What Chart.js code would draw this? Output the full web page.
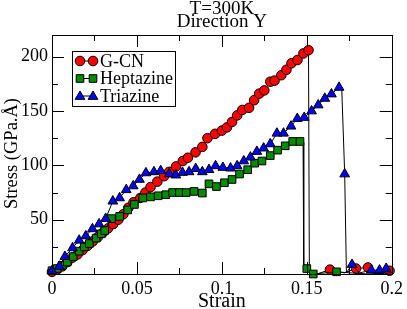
<!DOCTYPE html>
<html>
<head>
<meta charset="utf-8">
<script src="https://cdn.jsdelivr.net/npm/chart.js@4.4.0/dist/chart.umd.min.js"></script>
<style>
html,body{margin:0;padding:0;background:#fff;}
#wrap{width:407px;height:309px;position:relative;}
</style>
</head>
<body>
<div id="wrap"><canvas id="c" width="407" height="309"></canvas></div>
<script>
// ---- Data ----
const titleLines = ['T=300K', 'Direction Y'];
const xTitle = 'Strain';
const yTitle = 'Stress (GPa.Å)';
const seriesNames = ['G-CN', 'Heptazine', 'Triazine'];

const xMajorTicks = [0, 0.05, 0.1, 0.15, 0.2];
const xTickLabels = ['0', '0.05', '0.1', '0.15', '0.2'];
const xMinorTicks = [0.025, 0.075, 0.125, 0.175];
const yMajorTicks = [50, 100, 150, 200];
const yTickLabels = ['50', '100', '150', '200'];
const yMinorTicks = [25, 75, 125, 175];

// symbols: [strain, stress]
const gcnSymbols = [[0,2],[0.003,4],[0.006,7],[0.009,11],[0.012,15],[0.015,18],[0.018,22],[0.021,26],[0.024,30],[0.027,34],[0.030,38],[0.033,42],[0.036,46],[0.039,50],[0.042,55],[0.045,61],[0.048,66],[0.052,70],[0.055,75],[0.058,80],[0.062,85],[0.066,90],[0.069,94],[0.073,99],[0.077,104],[0.080,107],[0.0845,112],[0.0885,117],[0.0915,125],[0.096,129],[0.100,132],[0.103,135],[0.106,140],[0.109,146],[0.112,151],[0.116,153],[0.119,160],[0.122,166],[0.125,169],[0.1285,177],[0.131,178],[0.135,183],[0.138,188],[0.141,194],[0.1445,197],[0.148,203],[0.151,206],[0.1636,4],[0.179,5],[0.186,6],[0.1987,3]];
const gcnTrace = [[0.1515,1],[0.156,0],[0.172,1],[0.193,0],[0.2,1]];

const heptSymbols = [[0,3],[0.003,5],[0.006,8],[0.009,11],[0.0125,16],[0.016,21],[0.019,25],[0.022,28],[0.026,33],[0.029,37],[0.031,40],[0.035,51],[0.0398,53],[0.0446,59],[0.0485,64],[0.0534,70],[0.058,71],[0.0625,72],[0.067,73],[0.071,75],[0.075,75],[0.079,75],[0.0836,76],[0.0885,74.5],[0.0924,83],[0.0968,80.5],[0.1015,84],[0.106,87],[0.1104,92],[0.1152,96],[0.1193,102],[0.1236,104],[0.1285,109],[0.1328,114],[0.1373,118],[0.1417,122],[0.146,122],[0.150,5],[0.1538,0],[0.1675,2]];
const heptTrace = [[0.1478,121],[0.1482,2],[0.176,1],[0.186,0],[0.2,1]];

const triSymbols = [[0,3],[0.0043,7],[0.0076,16],[0.0121,24],[0.016,31],[0.0199,35],[0.0238,41.5],[0.0277,46],[0.0316,51],[0.0358,67],[0.0398,70],[0.0437,77.5],[0.0478,81],[0.0515,87],[0.0553,93],[0.060,94],[0.064,95],[0.069,92],[0.0729,91],[0.0768,93.4],[0.0807,94],[0.0846,97],[0.0885,94],[0.0924,96],[0.0963,99.5],[0.1006,98],[0.1051,97.4],[0.109,99.5],[0.1129,104],[0.1168,107.5],[0.1206,112.7],[0.1246,115.8],[0.1285,119.7],[0.1324,129.5],[0.1363,129.5],[0.1407,136],[0.1444,143],[0.1485,144],[0.1528,150],[0.1567,155.5],[0.1606,161.6],[0.1645,165.6],[0.169,171.7],[0.1723,92],[0.1766,8.7],[0.188,3.5],[0.1928,3.5],[0.1967,5]];
const triTrace = [[0.1706,169],[0.1733,1],[0.181,1],[0.2,1]];

// ---- Styling ----
const FONT = '"Liberation Serif", "Times New Roman", Times, serif';
const colors = ['#ff0000', '#008b00', '#0000ff'];
const styles = ['circle', 'rect', 'triangle'];
const radii = [4.8, 5.4, 5.6];

function toPts(a){ return a.map(p => ({x:p[0], y:p[1]})); }
function merged(sym, tr){ return sym.concat(tr).slice().sort((a,b)=>a[0]-b[0]); }

const allSym = [gcnSymbols, heptSymbols, triSymbols];
const allTrace = [gcnTrace, heptTrace, triTrace];

const datasets = [];
for (let i = 0; i < 3; i++) {
  datasets.push({
    label: seriesNames[i] + ' line',
    data: toPts(merged(allSym[i], allTrace[i])),
    showLine: true, borderColor: '#000', borderWidth: 1, pointRadius: 0,
    pointHoverRadius: 0, fill: false, tension: 0, clip: false,
    order: 10 - 2*i
  });
  datasets.push({
    label: seriesNames[i],
    data: toPts(allSym[i]),
    showLine: false, pointStyle: styles[i], pointRadius: radii[i],
    pointBackgroundColor: colors[i], pointBorderColor: '#000', pointBorderWidth: 1,
    clip: false, order: 9 - 2*i
  });
}

function drawMarker(ctx, style, x, y, r, fill){
  ctx.save();
  ctx.fillStyle = fill; ctx.strokeStyle = '#000'; ctx.lineWidth = 1;
  ctx.beginPath();
  if (style === 'circle') { ctx.arc(x, y, r, 0, Math.PI*2); }
  else if (style === 'rect') { const s = r*Math.SQRT1_2; ctx.rect(x-s, y-s, 2*s, 2*s); }
  else {
    const a = -Math.PI/2;
    for (let k = 0; k < 3; k++) {
      const ang = a + k*2*Math.PI/3;
      const px = x + Math.cos(ang)*r, py = y + Math.sin(ang)*r + r*0.1;
      if (k===0) ctx.moveTo(px, py); else ctx.lineTo(px, py);
    }
    ctx.closePath();
  }
  ctx.fill(); ctx.stroke();
  ctx.restore();
}

const decor = {
  id: 'decor',
  afterDraw(chart){
    const ctx = chart.ctx, ca = chart.chartArea;
    const xs = chart.scales.x, ys = chart.scales.y;
    ctx.save();
    ctx.strokeStyle = '#000'; ctx.lineWidth = 1;
    ctx.strokeRect(Math.round(ca.left)+0.5, Math.round(ca.top)+0.5, Math.round(ca.right-ca.left), Math.round(ca.bottom-ca.top));
    ctx.beginPath();
    const tick = (vals, len) => {
      vals.forEach(v => {
        const px = Math.round(xs.getPixelForValue(v))+0.5;
        ctx.moveTo(px, ca.bottom); ctx.lineTo(px, ca.bottom - len);
        ctx.moveTo(px, ca.top); ctx.lineTo(px, ca.top + len);
      });
    };
    const ytick = (vals, len) => {
      vals.forEach(v => {
        const py = Math.round(ys.getPixelForValue(v))+0.5;
        ctx.moveTo(ca.left, py); ctx.lineTo(ca.left + len, py);
        ctx.moveTo(ca.right, py); ctx.lineTo(ca.right - len, py);
      });
    };
    tick(xMajorTicks, 12); tick(xMinorTicks, 6);
    ytick(yMajorTicks, 12); ytick(yMinorTicks, 6);
    ctx.stroke();

    ctx.fillStyle = '#000';
    ctx.font = '19px ' + FONT;
    ctx.textAlign = 'center'; ctx.textBaseline = 'alphabetic';
    const cx = (ca.left + ca.right)/2;
    ctx.fillText(titleLines[0], cx, 14);
    ctx.fillText(titleLines[1], cx, 27);
    ctx.font = '20px ' + FONT;
    ctx.fillText(xTitle, cx, 307);
    ctx.save();
    ctx.font = '18.5px ' + FONT;
    ctx.translate(12, (ca.top + ca.bottom)/2 - 1);
    ctx.rotate(-Math.PI/2);
    ctx.textBaseline = 'middle';
    ctx.fillText(yTitle, 0, 0);
    ctx.restore();

    const lx = 72, ly = 51, lw = 103, lh = 55;
    ctx.fillStyle = '#fff';
    ctx.fillRect(lx, ly, lw, lh);
    ctx.strokeStyle = '#000';
    ctx.strokeRect(lx+0.5, ly+0.5, lw, lh);
    for (let i = 0; i < 3; i++) {
      const y = 61 + i*17.5;
      ctx.beginPath(); ctx.moveTo(80, y); ctx.lineTo(93, y); ctx.strokeStyle='#000'; ctx.stroke();
      drawMarker(ctx, styles[i], 80, y, radii[i], colors[i]);
      drawMarker(ctx, styles[i], 93, y, radii[i], colors[i]);
      ctx.fillStyle = '#000';
      ctx.textAlign = 'left'; ctx.textBaseline = 'middle';
      ctx.font = '18px ' + FONT;
      ctx.fillText(seriesNames[i], 100, y + 1);
    }
    ctx.restore();
  }
};

new Chart(document.getElementById('c'), {
  type: 'scatter',
  data: { datasets },
  options: {
    responsive: false, animation: false,
    layout: { padding: { top: 35, right: 13, left: 0, bottom: 0 } },
    plugins: { legend: { display: false }, tooltip: { enabled: false }, title: { display: false } },
    scales: {
      x: {
        type: 'linear', min: 0, max: 0.2,
        grid: { display: false, drawTicks: false },
        border: { display: false },
        afterBuildTicks: s => { s.ticks = xMajorTicks.map(v => ({ value: v })); },
        afterFit: s => { s.height = 35; },
        ticks: {
          autoSkip: false, maxRotation: 0, color: '#000', padding: 4,
          font: { family: FONT, size: 18 },
          callback: v => { const i = xMajorTicks.indexOf(v); return i >= 0 ? xTickLabels[i] : ''; }
        }
      },
      y: {
        type: 'linear', min: 0, max: 220,
        grid: { display: false, drawTicks: false },
        border: { display: false },
        afterBuildTicks: s => { s.ticks = yMajorTicks.map(v => ({ value: v })); },
        afterFit: s => { s.width = 52; },
        ticks: {
          autoSkip: false, color: '#000', padding: 4,
          font: { family: FONT, size: 18 },
          callback: v => { const i = yMajorTicks.indexOf(v); return i >= 0 ? yTickLabels[i] : ''; }
        }
      }
    }
  },
  plugins: [decor]
});
</script>
</body>
</html>
